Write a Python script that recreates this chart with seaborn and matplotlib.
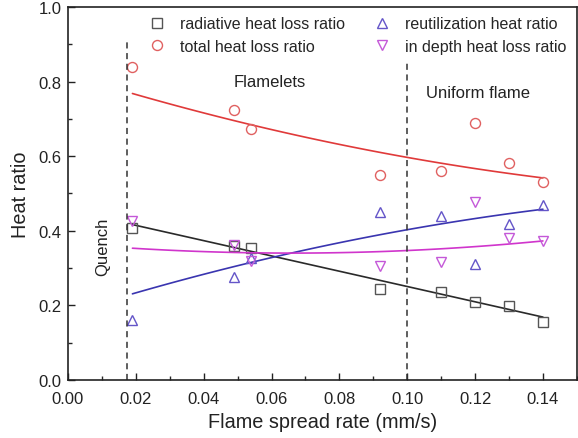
import numpy as np
import pandas as pd
import matplotlib
matplotlib.use("Agg")
import matplotlib.pyplot as plt
import seaborn as sns
from matplotlib.ticker import MultipleLocator

sns.set_theme(style="ticks")
plt.rcParams['font.family'] = ['Liberation Sans', 'DejaVu Sans']
plt.rcParams['xtick.direction'] = 'in'
plt.rcParams['ytick.direction'] = 'in'

spread_rate = [0.019, 0.049, 0.054, 0.092, 0.110, 0.120, 0.130, 0.140]
radiative = [0.407, 0.360, 0.354, 0.244, 0.237, 0.210, 0.199, 0.155]
total = [0.838, 0.725, 0.673, 0.550, 0.559, 0.689, 0.583, 0.531]
reutilization = [0.162, 0.277, 0.327, 0.451, 0.441, 0.311, 0.417, 0.470]
in_depth = [0.425, 0.363, 0.320, 0.305, 0.317, 0.476, 0.380, 0.373]

# ---- fitted trend curves ----
radiative_fit_x = [0.019, 0.080, 0.140]
radiative_fit_y = [0.416, 0.293, 0.168]
total_fit_x = [0.019, 0.054, 0.074, 0.100, 0.140]
total_fit_y = [0.769, 0.682, 0.643, 0.599, 0.541]
reutilization_fit_x = [0.019, 0.054, 0.080, 0.100, 0.140]
reutilization_fit_y = [0.231, 0.315, 0.369, 0.402, 0.458]
in_depth_fit_x = [0.019, 0.0615, 0.080, 0.100, 0.140]
in_depth_fit_y = [0.353, 0.342, 0.340, 0.347, 0.373]

series_names = ["radiative heat loss ratio", "total heat loss ratio",
                "reutilization heat ratio", "in depth heat loss ratio"]
quench_x = 0.0175
uniform_x = 0.10

series_vals = [radiative, total, reutilization, in_depth]
fits = [(radiative_fit_x, radiative_fit_y, 1), (total_fit_x, total_fit_y, 2),
        (reutilization_fit_x, reutilization_fit_y, 2), (in_depth_fit_x, in_depth_fit_y, 2)]
marker_list = ['s', 'o', '^', 'v']
marker_colors = ['#555555', '#e06060', '#6455c8', '#c458d8']
line_colors = ['#2a2a2a', '#e03a3a', '#3a35b0', '#d035cc']

fig = plt.figure(figsize=(5.78, 4.39), dpi=100)
ax = fig.add_axes([0.1176, 0.1321, 0.8804, 0.8497])

for name, vals, (fx, fy, deg), mk, mc, lc in zip(series_names, series_vals, fits,
                                                 marker_list, marker_colors, line_colors):
    coef = np.polyfit(np.array(fx), np.array(fy), deg)
    xs = np.linspace(min(fx), max(fx), 100)
    fit = pd.DataFrame({"x": xs, "y": np.polyval(coef, xs)})
    sns.lineplot(data=fit, x="x", y="y", ax=ax, color=lc, lw=1.2, legend=False)
    df = pd.DataFrame({"x": spread_rate, "y": vals})
    ax.plot(df["x"], df["y"], linestyle='none', marker=mk, markersize=7.2,
            markerfacecolor='none', markeredgecolor=mc, markeredgewidth=1.0,
            label=name)

ax.plot([quench_x, quench_x], [0, 0.905], color='#333333', lw=1.1, ls=(0, (4, 3)))
ax.plot([uniform_x, uniform_x], [0, 0.855], color='#333333', lw=1.1, ls=(0, (4, 3)))

ax.text(0.0595, 0.80, "Flamelets", fontsize=12, ha='center', va='center', color='#222222')
ax.text(0.121, 0.772, "Uniform flame", fontsize=12, ha='center', va='center', color='#222222')
ax.text(0.0103, 0.36, "Quench", fontsize=12, ha='center', va='center', rotation=90, color='#222222')

ax.set_xlim(0, 0.15)
ax.set_ylim(0, 1.0)
ax.xaxis.set_major_locator(MultipleLocator(0.02))
ax.xaxis.set_minor_locator(MultipleLocator(0.01))
ax.yaxis.set_major_locator(MultipleLocator(0.2))
ax.yaxis.set_minor_locator(MultipleLocator(0.1))
ax.set_xticklabels([f"{v:.2f}" for v in ax.get_xticks()])
ax.set_yticklabels([f"{v:.1f}" for v in ax.get_yticks()])
ax.tick_params(axis='both', which='major', length=5, width=1, labelsize=12, colors='#222222')
ax.tick_params(axis='x', which='major', pad=8)
ax.tick_params(axis='y', which='major', pad=4.5)
ax.tick_params(axis='both', which='minor', length=3, width=1)
for s in ax.spines.values():
    s.set_linewidth(1.2)
    s.set_color('#222222')

ax.set_xlabel("Flame spread rate (mm/s)", fontsize=14.3, color='#222222', labelpad=4)
ax.set_ylabel("Heat ratio", fontsize=14.3, color='#222222', labelpad=6.5)

ax.legend(ncol=2, loc='upper left', bbox_to_anchor=(0.1434, 0.992), borderaxespad=0,
          frameon=False, fontsize=11.5, handletextpad=0.84, columnspacing=1.75,
          labelspacing=0.45, handlelength=1.2)

fig.savefig("out.png", dpi=100)
